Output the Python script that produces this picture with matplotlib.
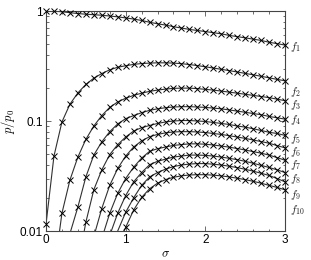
import matplotlib
matplotlib.use('Agg')
import matplotlib.pyplot as plt
from matplotlib.ticker import FixedLocator, NullFormatter, FixedFormatter

SIGMA = [0.0, 0.1, 0.2, 0.3, 0.4, 0.5, 0.6, 0.7, 0.8, 0.9, 1.0,
         1.1, 1.2, 1.3, 1.4, 1.5, 1.6, 1.7, 1.8, 1.9, 2.0,
         2.1, 2.2, 2.3, 2.4, 2.5, 2.6, 2.7, 2.8, 2.9, 3.0]
N = None
F1 = [1.000, 0.995, 0.985, 0.965, 0.948, 0.935, 0.925, 0.915, 0.900, 0.885, 0.865,
      0.845, 0.820, 0.790, 0.765, 0.745, 0.720, 0.700, 0.680, 0.665, 0.650,
      0.635, 0.620, 0.600, 0.585, 0.570, 0.555, 0.540, 0.520, 0.505, 0.490]
F2 = [0.0115, 0.048, 0.098, 0.142, 0.180, 0.215, 0.245, 0.270, 0.292, 0.308, 0.318,
      0.327, 0.333, 0.336, 0.338, 0.338, 0.336, 0.332, 0.326, 0.319, 0.311,
      0.303, 0.295, 0.287, 0.279, 0.271, 0.263, 0.255, 0.247, 0.239, 0.232]
F3 = [N, N, 0.0145, 0.029, 0.047, 0.068, 0.090, 0.112, 0.133, 0.149, 0.161,
      0.171, 0.179, 0.186, 0.191, 0.195, 0.198, 0.199, 0.199, 0.197, 0.194,
      0.191, 0.187, 0.183, 0.179, 0.175, 0.171, 0.167, 0.163, 0.158, 0.153]
F4 = [N, N, N, N, 0.0165, 0.031, 0.049, 0.0646, 0.080, 0.094, 0.105,
      0.112, 0.119, 0.125, 0.129, 0.132, 0.134, 0.135, 0.135, 0.134, 0.133,
      0.131, 0.129, 0.126, 0.123, 0.120, 0.117, 0.114, 0.110, 0.107, 0.104]
F5 = [N, N, N, N, N, 0.012, 0.0237, 0.0359, 0.0495, 0.061, 0.0715,
      0.081, 0.087, 0.091, 0.095, 0.098, 0.100, 0.101, 0.101, 0.100, 0.099,
      0.097, 0.095, 0.093, 0.090, 0.088, 0.085, 0.082, 0.079, 0.077, 0.074]
F6 = [N, N, N, N, N, N, N, 0.016, 0.026, 0.037, 0.048,
      0.058, 0.066, 0.072, 0.0755, 0.078, 0.0795, 0.080, 0.080, 0.0795, 0.0785,
      0.077, 0.0755, 0.0735, 0.0715, 0.0695, 0.0672, 0.065, 0.0628, 0.0598, 0.057]
F7 = [N, N, N, N, N, N, N, N, 0.0145, 0.022, 0.030,
      0.038, 0.046, 0.053, 0.056, 0.058, 0.060, 0.061, 0.062, 0.062, 0.0615,
      0.0605, 0.0592, 0.0578, 0.0562, 0.0545, 0.0527, 0.051, 0.049, 0.0465, 0.044]
F8 = [N, N, N, N, N, N, N, N, N, 0.0145, 0.021,
      0.028, 0.034, 0.040, 0.043, 0.045, 0.047, 0.048, 0.049, 0.049, 0.0487,
      0.048, 0.047, 0.0458, 0.0445, 0.043, 0.0413, 0.0395, 0.0378, 0.036, 0.034]
F9 = [N, N, N, N, N, N, N, N, N, N, 0.0148,
      0.020, 0.026, 0.031, 0.034, 0.0365, 0.0385, 0.0398, 0.0406, 0.041, 0.041,
      0.0405, 0.0398, 0.0388, 0.0377, 0.0364, 0.035, 0.0335, 0.032, 0.030, 0.028]
F10 = [N, N, N, N, N, N, N, N, N, N, 0.0108,
       0.0155, 0.0202, 0.0242, 0.0272, 0.0293, 0.0308, 0.0317, 0.0323, 0.0325, 0.0325,
       0.0322, 0.0317, 0.031, 0.0302, 0.0293, 0.0283, 0.0272, 0.026, 0.0249, 0.0237]
CURVES = [F1, F2, F3, F4, F5, F6, F7, F8, F9, F10]
ONSET = [N, N, 0.17, 0.31, 0.48, 0.62, 0.73, 0.82, 0.90, 0.98]
NAMES = [r'$f_{%d}$' % k for k in range(1, 11)]
NAME_AT = [0.47, 0.184, 0.14, 0.102, 0.0685, 0.0522, 0.0398, 0.0297, 0.0211, 0.0155]

XTICKS = [0, 1, 2, 3]
YTICKS = [0.01, 0.1, 1]
YTICKLABELS = ['0.01', '0.1', '1']

plt.rcParams['mathtext.fontset'] = 'cm'
plt.rcParams['font.family'] = 'Liberation Sans'

fig = plt.figure(figsize=(3.11, 2.6), dpi=100)
ax = fig.add_axes([46 / 311, 29 / 260, 239 / 311, 220 / 260])

for vals, s0 in zip(CURVES, ONSET):
    xs = [s for s, v in zip(SIGMA, vals) if v is not None]
    ys = [v for v in vals if v is not None]
    lx = ([s0] if s0 is not None else []) + xs
    ly = ([0.01] if s0 is not None else []) + ys
    ax.plot(lx, ly, color='#303030', lw=0.8, zorder=2, clip_on=True)
    ax.plot(xs, ys, ls='none', marker='x', ms=3.8, mew=0.7, color='black',
            zorder=3, clip_on=False)

ax.set_yscale('log')
ax.set_xlim(0, 3)
ax.set_ylim(0.01, 1)
ax.xaxis.set_major_locator(FixedLocator(XTICKS))
ax.yaxis.set_major_locator(FixedLocator(YTICKS))
ax.yaxis.set_major_formatter(FixedFormatter(YTICKLABELS))
ax.xaxis.set_minor_locator(FixedLocator([i * 0.2 for i in range(16)]))
ax.yaxis.set_minor_locator(FixedLocator([m * 10.0 ** e for e in (-2, -1) for m in range(2, 10)]))
ax.yaxis.set_minor_formatter(NullFormatter())
ax.tick_params(which='both', direction='in', top=True, right=True, labelsize=8.5,
               width=0.6, color='#555555', pad=2.5)
ax.tick_params(which='major', length=3.5)
ax.tick_params(which='minor', length=1.8)
for sp in ax.spines.values():
    sp.set_linewidth(0.8)
    sp.set_color('#444444')

ax.set_xlabel(r'$\sigma$', fontsize=9, labelpad=1)
ax.set_ylabel(r'$p/p_0$', fontsize=9, labelpad=2)

for name, yv in zip(NAMES, NAME_AT):
    ax.text(1.02, yv, name, transform=ax.get_yaxis_transform(), fontsize=8,
            va='center', ha='left', color='#222222')

fig.savefig('out.png', dpi=100)
